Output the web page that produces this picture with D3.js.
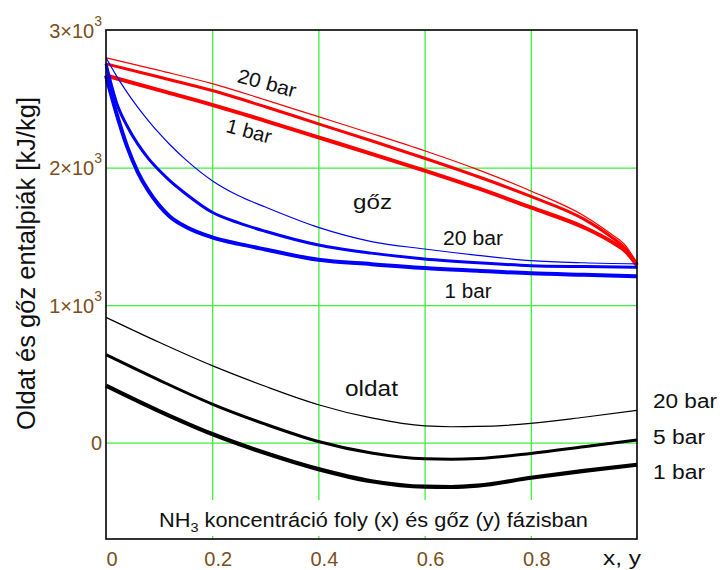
<!DOCTYPE html>
<html>
<head>
<meta charset="utf-8">
<script src="https://cdn.jsdelivr.net/npm/d3@7"></script>
<style>
  body { margin: 0; background: #fff; }
  text { font-family: "Liberation Sans", Arial, sans-serif; }
</style>
</head>
<body>
<svg id="chart" width="723" height="570"></svg>
<script>
// vapour (red) curves
const xRed = [0, 0.1, 0.2, 0.3, 0.4, 0.5, 0.6, 0.7, 0.8, 0.9, 0.95, 0.98, 1.0];
const red20 = [2798, 2706, 2610, 2492, 2370, 2248, 2122, 1985, 1830, 1650, 1520, 1425, 1300];
const red5  = [2754, 2658, 2560, 2442, 2318, 2195, 2068, 1935, 1790, 1625, 1500, 1405, 1300];
const red1  = [2669, 2563, 2456, 2340, 2220, 2100, 1978, 1850, 1710, 1565, 1465, 1385, 1290];

// vapour (blue) curves
const xBlue = [0, 0.02, 0.04, 0.06, 0.08, 0.1, 0.12, 0.15, 0.2, 0.25, 0.3, 0.4, 0.5, 0.6, 0.7, 0.8, 0.9, 1.0];
const blue20 = [2798, 2665, 2545, 2438, 2340, 2250, 2168, 2058, 1905, 1795, 1713, 1565, 1462, 1408, 1362, 1324, 1308, 1300];
const blue5  = [2754, 2470, 2300, 2170, 2065, 1980, 1905, 1810, 1675, 1598, 1537, 1437, 1378, 1336, 1308, 1287, 1280, 1275];
const blue1  = [2669, 2390, 2150, 1965, 1830, 1725, 1645, 1570, 1493, 1445, 1405, 1330, 1298, 1270, 1250, 1231, 1220, 1210];

// liquid (black) curves
const xLiq = [0, 0.1, 0.2, 0.3, 0.4, 0.5, 0.6, 0.65, 0.7, 0.8, 0.9, 1.0];
const liq20 = [911, 730, 560, 410, 276, 180, 122, 116, 118, 140, 185, 235];
const liq5  = [640, 455, 281, 135, 9, -75, -117, -120, -115, -78, -30, 20];
const liq1  = [415, 230, 63, -75, -192, -280, -320, -322, -312, -255, -205, -160];

const xTicks = [0, 0.2, 0.4, 0.6, 0.8];
const xTickLabels = ["0", "0.2", "0.4", "0.6", "0.8"];
const yTicks = [0, 1000, 2000, 3000];
const yTickLabels = ["0", "1", "2", "3"];

const margin = {top: 30, left: 106};
const width = 531, height = 509;

const svg = d3.select("#chart");
const g = svg.append("g").attr("transform", "translate(" + margin.left + "," + margin.top + ")");

const x = d3.scaleLinear().domain([0, 1]).range([0, width]);
const y = d3.scaleLinear().domain([-700, 3000]).range([height, 0]);

// grid
g.append("g")
    .attr("transform", "translate(0," + height + ")")
    .call(d3.axisBottom(x).tickValues([0.2, 0.4, 0.6, 0.8]).tickSize(-height).tickFormat(""))
    .call(a => a.select(".domain").remove())
    .selectAll("line").attr("stroke", "#3cf03c").attr("stroke-width", 1.3);
g.append("g")
    .call(d3.axisLeft(y).tickValues([0, 1000, 2000]).tickSize(-width).tickFormat(""))
    .call(a => a.select(".domain").remove())
    .selectAll("line").attr("stroke", "#3cf03c").attr("stroke-width", 1.3);

// bottom caption with white background (hides grid)
const cap = g.append("text")
    .attr("x", 53).attr("y", 497)
    .attr("font-size", 19.5)
    .attr("fill", "#111");
cap.append("tspan").text("NH");
cap.append("tspan").attr("font-size", 13).attr("dy", 5).text("3");
cap.append("tspan").attr("dy", -5).text(" koncentráció foly (x) és gőz (y) fázisban");
// stretch to the reference width
const capW = cap.node().getComputedTextLength();
cap.attr("transform", "translate(53,0) scale(" + (429 / capW) + ",1) translate(-53,0)");
g.insert("rect", () => cap.node())
    .attr("x", 50).attr("y", 470).attr("width", 436).attr("height", 36)
    .attr("fill", "#fff");

// curves
const line = (xs) => d3.line()
    .x((d, i) => x(xs[i]))
    .y(d => y(d))
    .curve(d3.curveMonotoneX);

const series = [
  {xs: xRed, v: red20, c: "#ff0000", w: 1.2},
  {xs: xRed, v: red5, c: "#ff0000", w: 3},
  {xs: xRed, v: red1, c: "#ff0000", w: 4},
  {xs: xBlue, v: blue20, c: "#0000ff", w: 1.2},
  {xs: xBlue, v: blue5, c: "#0000ff", w: 3},
  {xs: xBlue, v: blue1, c: "#0000ff", w: 4},
  {xs: xLiq, v: liq20, c: "#000", w: 1.2},
  {xs: xLiq, v: liq5, c: "#000", w: 3},
  {xs: xLiq, v: liq1, c: "#000", w: 4.2},
];
series.forEach(s => {
  g.append("path")
      .datum(s.v)
      .attr("fill", "none")
      .attr("stroke", s.c)
      .attr("stroke-width", s.w)
      .attr("d", line(s.xs)(s.v));
});

// frame
g.append("rect")
    .attr("width", width).attr("height", height)
    .attr("fill", "none").attr("stroke", "#000").attr("stroke-width", 1.6);

// tick labels
const tickColor = "#7a5020";
g.append("g")
    .attr("transform", "translate(0," + height + ")")
    .call(d3.axisBottom(x).tickValues(xTicks).tickSize(0).tickPadding(0)
        .tickFormat((d, i) => xTickLabels[i]))
    .call(a => a.select(".domain").remove())
    .selectAll("text")
    .attr("font-family", "Liberation Sans, Arial, sans-serif")
    .attr("font-size", 20).attr("fill", tickColor)
    .attr("y", 27).attr("dy", 0)
    .attr("dx", 5.5);

const yAx = g.append("g")
    .call(d3.axisLeft(y).tickValues(yTicks).tickSize(0).tickPadding(4).tickFormat(""))
    .call(a => a.select(".domain").remove());
yAx.selectAll(".tick text").each(function(d, i) {
  const t = d3.select(this)
      .attr("font-family", "Liberation Sans, Arial, sans-serif")
      .attr("font-size", 20).attr("fill", tickColor).attr("dy", "0.36em");
  if (d === 0) { t.text("0"); return; }
  t.append("tspan").text(yTickLabels[i] + "×10");
  t.append("tspan").attr("font-size", 14).attr("dy", -12).text("3");
});

svg.append("text")
    .attr("x", 603).attr("y", 565)
    .attr("font-size", 20).attr("fill", "#111")
    .attr("textLength", 38).attr("lengthAdjust", "spacingAndGlyphs")
    .text("x, y");

// y label
svg.append("text")
    .attr("transform", "translate(35,263.5) rotate(-90)")
    .attr("text-anchor", "middle")
    .attr("font-size", 25).attr("fill", "#111")
    .attr("textLength", 333).attr("lengthAdjust", "spacingAndGlyphs")
    .text("Oldat és gőz entalpiák [kJ/kg]");

// annotations (px positions)
const ann = [
  {t: "20 bar", cx: 267, cy: 83, r: 15, s: 20, w: 60},
  {t: "1 bar", cx: 249, cy: 131, r: 15, s: 20, w: 46},
  {t: "gőz", cx: 372.5, cy: 202, r: 0, s: 21, w: 39},
  {t: "20 bar", cx: 473, cy: 238, r: 0, s: 20, w: 60},
  {t: "1 bar", cx: 468, cy: 291, r: 0, s: 20, w: 47},
  {t: "oldat", cx: 371.5, cy: 388, r: 0, s: 22, w: 53},
];
ann.forEach(a => {
  svg.append("text")
      .attr("transform", "translate(" + a.cx + "," + a.cy + ") rotate(" + a.r + ")")
      .attr("text-anchor", "middle")
      .attr("dy", "0.35em")
      .attr("font-size", a.s).attr("fill", "#111")
      .attr("textLength", a.w).attr("lengthAdjust", "spacingAndGlyphs")
      .text(a.t);
});

const rightLabels = [{t: "20 bar", yy: 408, w: 64}, {t: "5 bar", yy: 443.5, w: 52}, {t: "1 bar", yy: 479, w: 52}];
rightLabels.forEach(a => {
  svg.append("text")
      .attr("x", 653).attr("y", a.yy)
      .attr("font-size", 20).attr("fill", "#111")
      .attr("textLength", a.w).attr("lengthAdjust", "spacingAndGlyphs")
      .text(a.t);
});
</script>
</body>
</html>
